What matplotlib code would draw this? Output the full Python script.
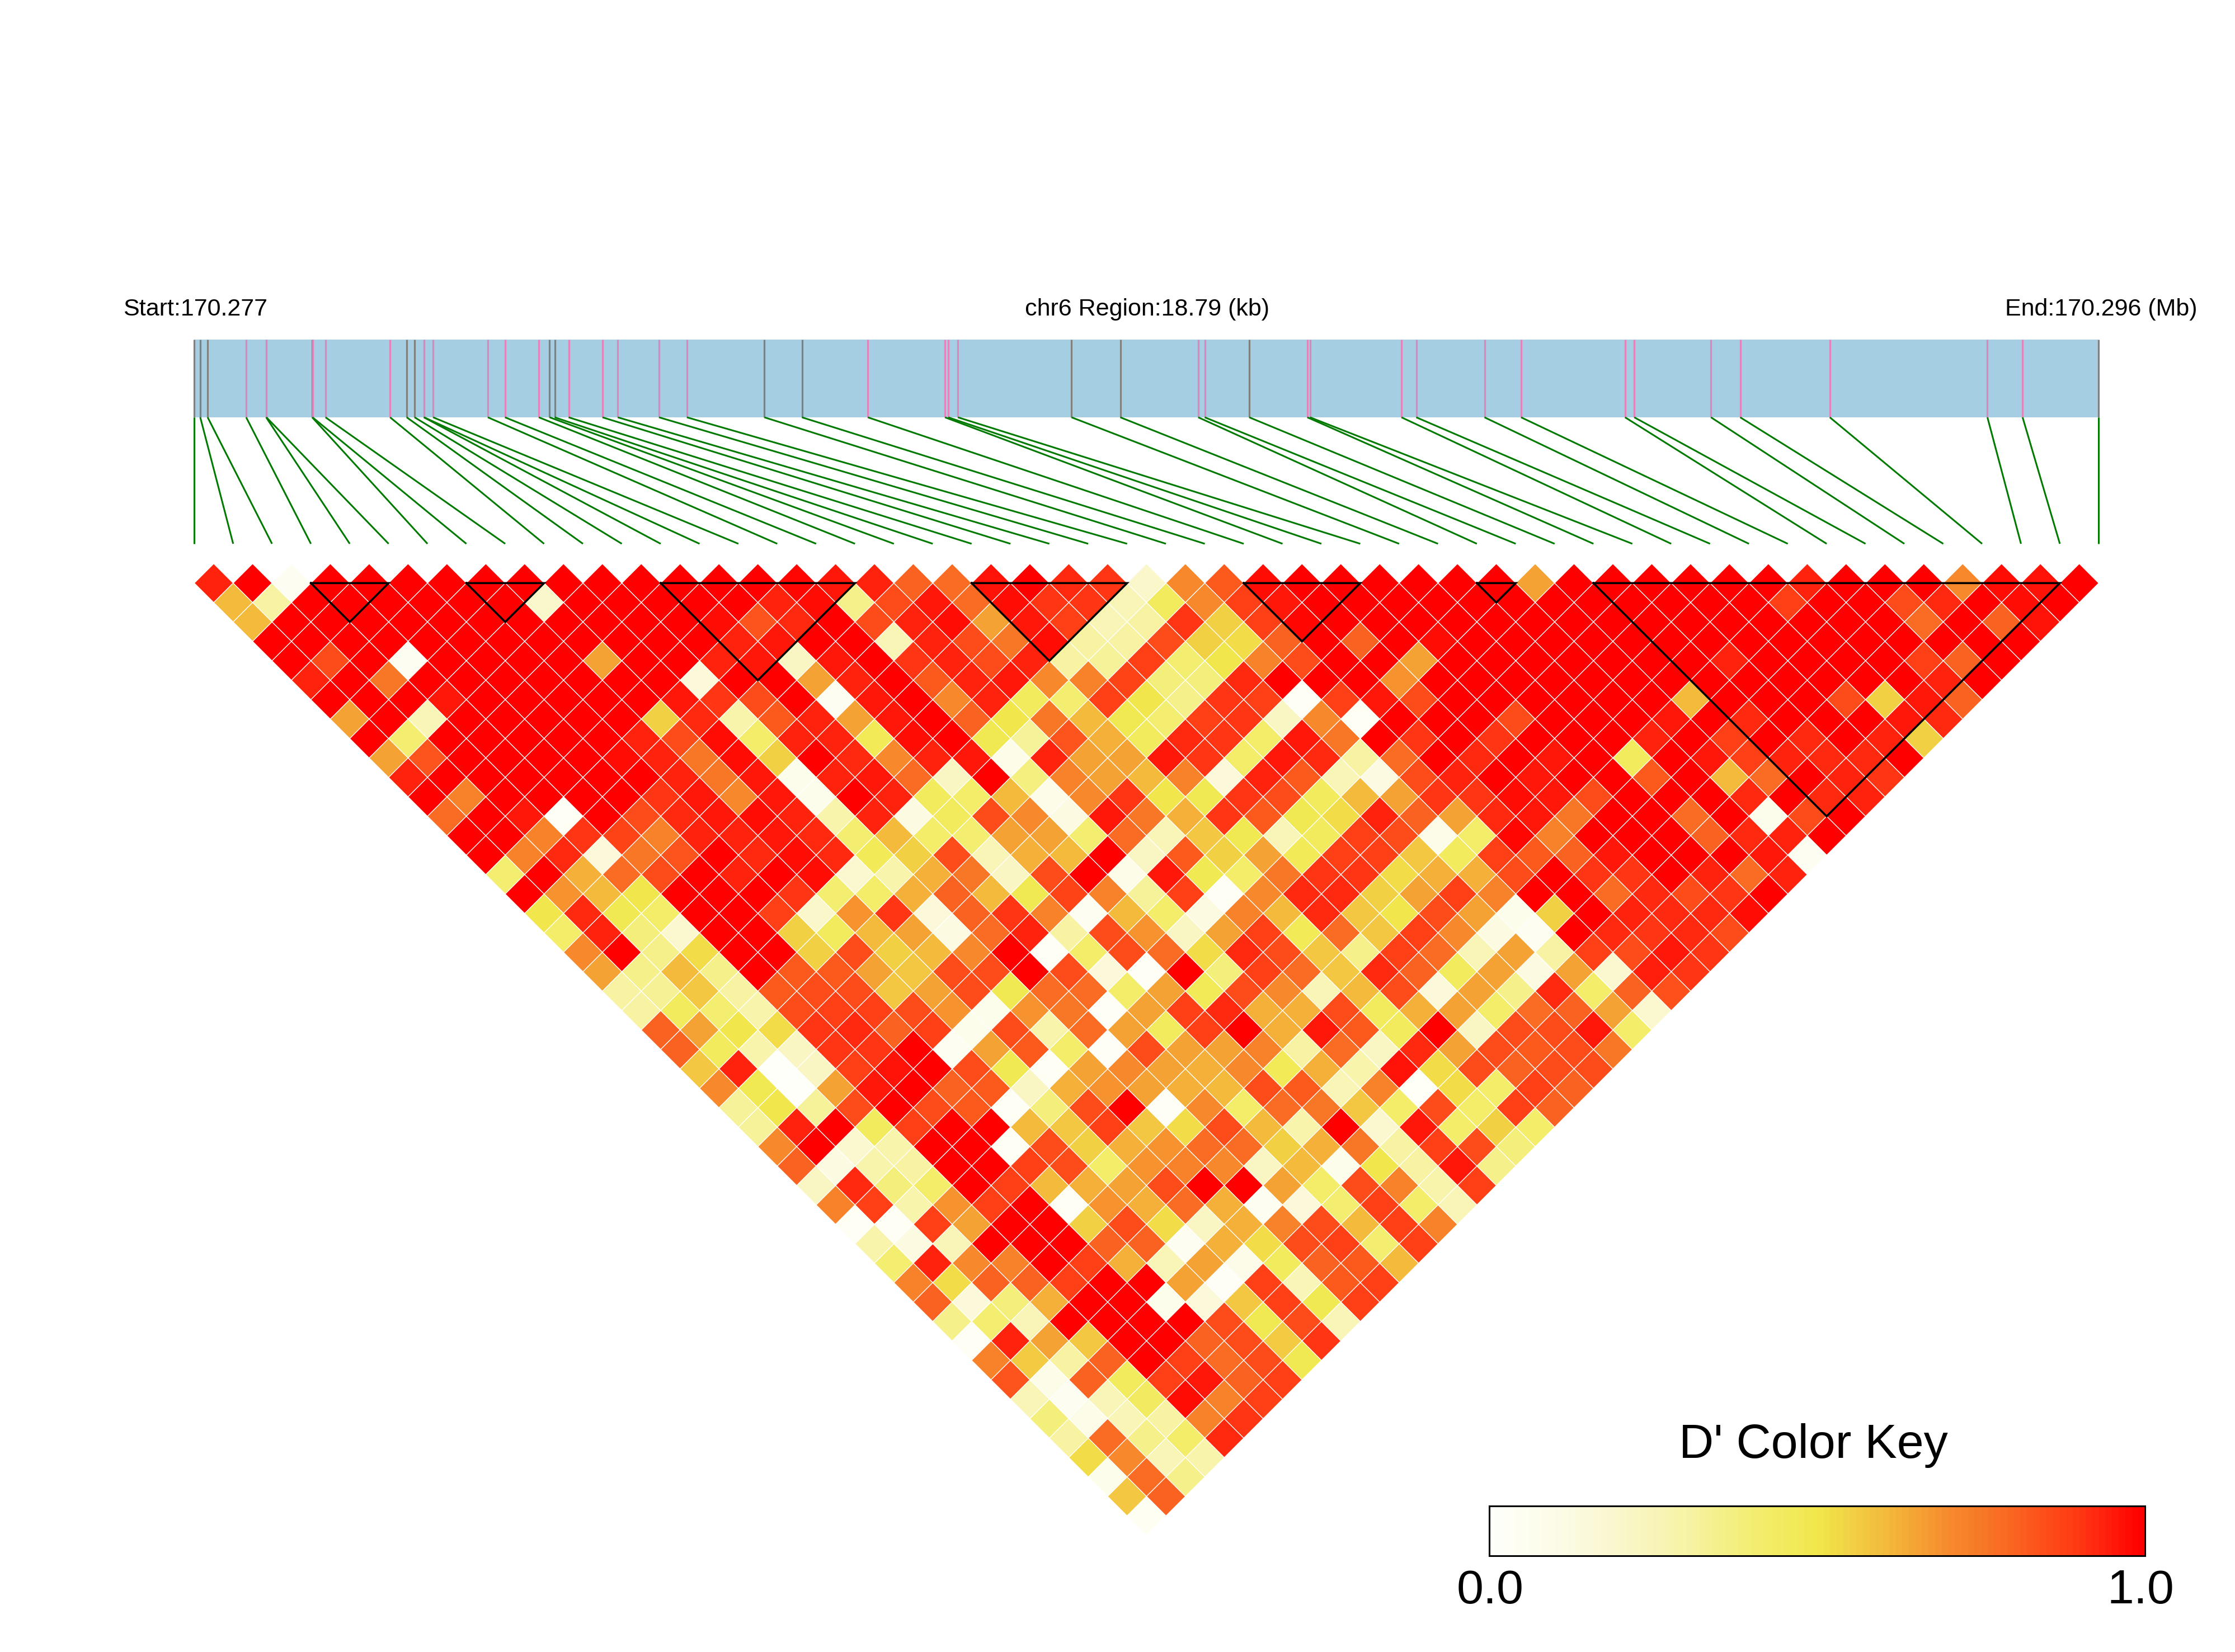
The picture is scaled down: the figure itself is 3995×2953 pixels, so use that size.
import matplotlib
matplotlib.use("Agg")
import matplotlib.pyplot as plt
import numpy as np
from matplotlib.collections import PolyCollection, LineCollection
from matplotlib.colors import LinearSegmentedColormap, Normalize
from matplotlib.patches import Rectangle

plt.rcParams['font.family'] = ['Liberation Sans', 'DejaVu Sans']

# SNP positions (bp from region start)
snp_pos = [0,59,132,512,709,712,1163,1167,1295,1932,
           2096,2174,2265,2268,2357,2897,3066,3400,3506,3556,
           3694,4028,4179,4586,4861,5625,5996,6646,7407,7439,
           7535,8656,9137,9906,9970,10409,10982,11009,11911,12057,
           12730,13091,14117,14208,14965,15253,16137,17692,18039,18790]
gray_snps = [0,1,2,6,10,11,18,19,25,26,31,32,35,49]
region_bp = 18790

# haplotype blocks: first and last SNP index
blocks = [(3,5),(7,9),(12,17),(20,24),(27,30),(33,34),(36,48)]

# D' x 100, one list per distance between SNPs
row_00 = [93,100,5,100,100,100,100,100,100,100,100,100,100,100,100,98,95,93,80,78,96,100,92,90,20,70,82,97,100,100,100,100,100,100,65,100,100,100,100,100,100,93,100,100,100,70,97,96,100]
row_01 = [60,30,100,100,100,100,100,100,20,100,100,100,100,100,93,97,35,85,95,78,97,90,90,25,45,70,88,95,100,100,100,100,100,100,100,100,100,100,100,100,88,100,100,85,92,100,97,100]
row_02 = [60,100,100,100,100,100,100,100,100,100,100,100,97,83,92,100,85,93,97,65,95,88,25,30,90,55,88,98,100,100,100,100,100,100,100,100,100,100,100,100,100,100,100,78,100,80,96]
row_03 = [100,100,100,100,100,100,100,100,100,100,100,100,93,95,100,100,25,93,85,75,97,30,30,85,55,52,80,100,80,100,97,100,100,100,100,100,100,100,100,100,100,100,100,100,100,100]
row_04 = [100,85,100,5,100,100,100,100,65,100,100,93,95,22,95,100,90,93,85,93,30,32,88,40,50,72,85,100,100,65,100,100,100,100,100,100,100,93,100,100,100,100,88,80,100]
row_05 = [93,100,75,100,100,100,100,100,100,100,15,100,100,65,93,100,82,93,95,70,72,87,38,38,92,100,100,100,68,100,100,100,100,100,100,100,100,100,100,100,100,100,93,100]
row_06 = [100,100,100,95,100,100,100,100,100,95,90,85,100,5,95,100,70,93,45,40,88,50,35,90,88,3,88,95,85,100,100,100,100,100,100,60,100,100,100,85,55,95,80]
row_07 = [65,100,25,100,100,100,100,100,55,92,28,82,93,65,95,100,80,50,75,60,48,40,88,90,22,70,3,100,100,100,85,100,100,100,95,100,92,100,100,100,95,92]
row_08 = [100,40,100,100,100,100,100,93,85,97,42,93,93,47,97,100,48,32,83,62,45,92,90,42,95,75,100,90,100,90,100,100,100,93,100,88,100,92,100,93,55]
row_09 = [65,83,100,100,100,100,97,93,75,97,55,100,92,70,93,95,10,93,65,65,95,90,42,95,92,30,78,100,92,100,95,100,45,100,95,88,93,92,92,100]
row_10 = [93,100,100,100,100,100,100,93,75,95,8,93,95,78,22,100,37,72,65,60,72,15,93,82,25,12,85,93,100,95,100,100,82,100,60,78,100,93,90]
row_11 = [100,72,100,100,100,100,90,95,70,95,8,100,93,45,42,60,10,70,90,50,48,90,85,45,60,65,90,90,97,95,85,100,100,100,92,100,92,93]
row_12 = [78,100,95,3,100,85,92,95,97,93,28,93,12,45,85,70,12,95,75,62,90,82,48,52,93,80,65,92,95,75,100,100,78,100,8,85,100]
row_13 = [100,100,72,90,87,72,93,93,95,92,40,60,42,40,65,65,40,78,25,58,48,25,45,88,85,10,42,98,72,100,100,100,80,92,93,100]
row_14 = [100,72,92,15,75,83,100,92,97,92,47,55,85,25,62,60,100,22,82,55,65,47,88,88,58,45,88,82,80,95,100,100,100,95,5]
row_15 = [40,100,62,78,85,100,93,100,97,18,28,62,75,22,85,100,10,95,48,42,75,90,90,52,62,62,85,100,90,90,100,93,78,93]
row_16 = [100,68,60,50,100,100,100,90,40,42,62,80,60,48,87,72,32,88,3,70,92,92,55,65,88,72,100,100,78,92,85,90,100]
row_17 = [50,92,48,42,100,100,88,20,68,90,15,80,90,72,5,60,42,12,72,60,92,58,50,85,65,8,55,100,93,92,92,97]
row_18 = [42,93,38,18,100,100,55,45,60,65,12,78,93,30,85,68,22,65,88,47,78,58,88,70,12,5,100,92,90,92,85]
row_19 = [70,100,35,52,100,100,55,85,55,60,70,100,3,42,85,78,52,92,85,58,35,88,78,25,65,30,88,85,95,90]
row_20 = [65,35,60,35,100,82,82,65,58,85,85,100,85,15,2,100,38,88,78,58,92,80,45,65,12,65,18,94,90]
row_21 = [30,33,58,30,82,85,85,58,65,85,48,78,78,42,65,47,85,70,25,60,85,15,65,35,92,42,80,84]
row_22 = [30,45,40,28,85,88,88,85,68,8,68,75,2,65,88,92,62,62,85,45,62,65,42,78,80,65,18]
row_23 = [80,65,50,52,90,92,80,88,8,85,28,78,65,45,88,100,62,95,82,45,100,22,85,85,95,42]
row_24 = [80,45,28,22,90,90,100,5,65,82,42,2,85,65,65,72,30,78,22,92,65,85,82,85,75]
row_25 = [58,93,0,22,88,96,100,85,48,3,65,70,65,62,70,47,62,28,96,52,85,80,85,85]
row_26 = [70,48,0,65,95,100,80,82,22,62,68,65,62,60,85,82,25,72,1,52,42,88,80]
row_27 = [32,50,32,85,100,85,82,3,38,85,100,2,70,42,78,75,58,42,85,42,88,80]
row_28 = [32,93,100,45,88,100,100,60,58,88,58,52,85,60,28,100,18,95,42,55,42]
row_29 = [70,100,18,28,100,100,3,85,55,62,68,78,78,55,62,75,30,88,85,38]
row_30 = [80,12,28,30,100,100,88,85,42,68,72,70,22,60,8,50,30,95,35]
row_31 = [22,92,38,42,100,88,60,62,65,85,100,100,65,42,85,72,28,88]
row_32 = [72,88,28,68,88,100,3,68,62,78,62,5,15,40,88,42,25]
row_33 = [3,3,88,65,100,100,55,85,52,22,62,72,85,60,88,72]
row_34 = [28,12,25,100,100,100,80,80,5,62,52,85,88,40,88]
row_35 = [40,93,70,72,100,88,62,25,65,10,45,80,82,60]
row_36 = [72,52,80,80,88,100,100,65,2,88,25,82,88]
row_37 = [80,15,38,62,100,100,8,15,58,88,48,88]
row_38 = [35,40,25,100,100,100,100,85,48,85,25]
row_39 = [3,93,65,58,100,100,80,85,57,90]
row_40 = [72,57,30,80,100,88,78,85,48]
row_41 = [83,10,80,45,88,95,80,88]
row_42 = [25,5,25,44,97,72,88]
row_43 = [38,10,25,30,72,90]
row_44 = [30,78,35,42,92]
row_45 = [52,70,25,28]
row_46 = [8,78,35]
row_47 = [58,80]
row_48 = [4]
ld_rows = [row_00,row_01,row_02,row_03,row_04,row_05,row_06,row_07,row_08,row_09,
           row_10,row_11,row_12,row_13,row_14,row_15,row_16,row_17,row_18,row_19,
           row_20,row_21,row_22,row_23,row_24,row_25,row_26,row_27,row_28,row_29,
           row_30,row_31,row_32,row_33,row_34,row_35,row_36,row_37,row_38,row_39,
           row_40,row_41,row_42,row_43,row_44,row_45,row_46,row_47,row_48]

key_stops = [(0,'#FFFFFA'),(.1,'#FDFCE8'),(.2,'#FAF7CB'),(.3,'#F7F3A5'),(.4,'#F3EE72'),
             (.5,'#F1E84C'),(.55,'#F2D245'),(.6,'#F3BD3D'),(.65,'#F5A535'),(.7,'#F78C2D'),
             (.75,'#F87A28'),(.8,'#FA6622'),(.85,'#FD4F1A'),(.9,'#FF3A14'),(.95,'#FF1D0C'),(1,'#FF0000')]
cmap = LinearSegmentedColormap.from_list('ld', key_stops, N=100)
norm = Normalize(0, 100)

W, H = 3995, 2953
fig = plt.figure(figsize=(W/100, H/100), dpi=100, facecolor='white')
ax = fig.add_axes([0, 0, 1, 1])
ax.set_xlim(0, W)
ax.set_ylim(H, 0)
ax.axis('off')

# layout
x0, x1 = 347.3, 3751.4
n = len(snp_pos)
step = (x1 - x0) / (n - 1)
half = step / 2
y_cells = 1042.3
bar_top, bar_bot, link_bot = 607, 746, 972

# gene bar
ax.add_patch(Rectangle((x0, bar_top), x1 - x0, bar_bot - bar_top, fc='#A6CEE3', ec='none', zorder=1))
xs = [x0 + p / region_bp * (x1 - x0) for p in snp_pos]
for i, x in enumerate(xs):
    ax.plot([x, x], [bar_top, bar_bot], color='#808080' if i in gray_snps else '#E283BC',
            lw=2.3, solid_capstyle='butt', zorder=2)
links = [[(x, bar_bot), (x0 + i * step, link_bot)] for i, x in enumerate(xs)]
ax.add_collection(LineCollection(links, colors='#007A00', linewidths=2.2, zorder=2))

# LD cells
polys, vals = [], []
for r, row in enumerate(ld_rows):
    assert len(row) == n - 1 - r, r
    for c, v in enumerate(row):
        cx = x0 + half + r * half + c * step
        cy = y_cells + r * half
        polys.append([(cx - half, cy), (cx, cy - half), (cx + half, cy), (cx, cy + half)])
        vals.append(v)
pc = PolyCollection(polys, array=np.array(vals, float), cmap=cmap, norm=norm,
                    edgecolors='white', linewidths=0.9, zorder=3)
ax.add_collection(pc)

# blocks
for a, b in blocks:
    xa, xb = x0 + a * step, x0 + b * step
    tri = [(xa, y_cells), (xb, y_cells), ((xa + xb) / 2, y_cells + (b - a) * half), (xa, y_cells)]
    ax.plot(*zip(*tri), color='black', lw=2.6, zorder=4, solid_joinstyle='miter')

# header text
txt = dict(fontsize=31, color='black', va='baseline')
ax.text(220, 564, 'Start:170.277', ha='left', **txt)
ax.text(2050, 564, 'chr6 Region:18.79 (kb)', ha='center', **txt)
ax.text(3927, 564, 'End:170.296 (Mb)', ha='right', **txt)

# colour key
kx0, kx1, ky0, ky1 = 2662, 3834, 2692, 2781
levels = np.linspace(0, 100, 100)[None, :]
ax.imshow(levels, extent=(kx0, kx1, ky1, ky0), cmap=cmap, norm=norm, aspect='auto',
          interpolation='nearest', zorder=3)
ax.set_xlim(0, W)
ax.set_ylim(H, 0)
ax.add_patch(Rectangle((kx0, ky0), kx1 - kx0, ky1 - ky0, fc='none', ec='black', lw=2.2, zorder=4))
ax.text(3241, 2606, "D' Color Key", fontsize=62, ha='center', va='baseline', color='black')
ax.text(2664, 2866, '0.0', fontsize=62, ha='center', va='baseline', color='black')
ax.text(3826, 2866, '1.0', fontsize=62, ha='center', va='baseline', color='black')

fig.savefig('out.png', dpi=100, facecolor='white')
